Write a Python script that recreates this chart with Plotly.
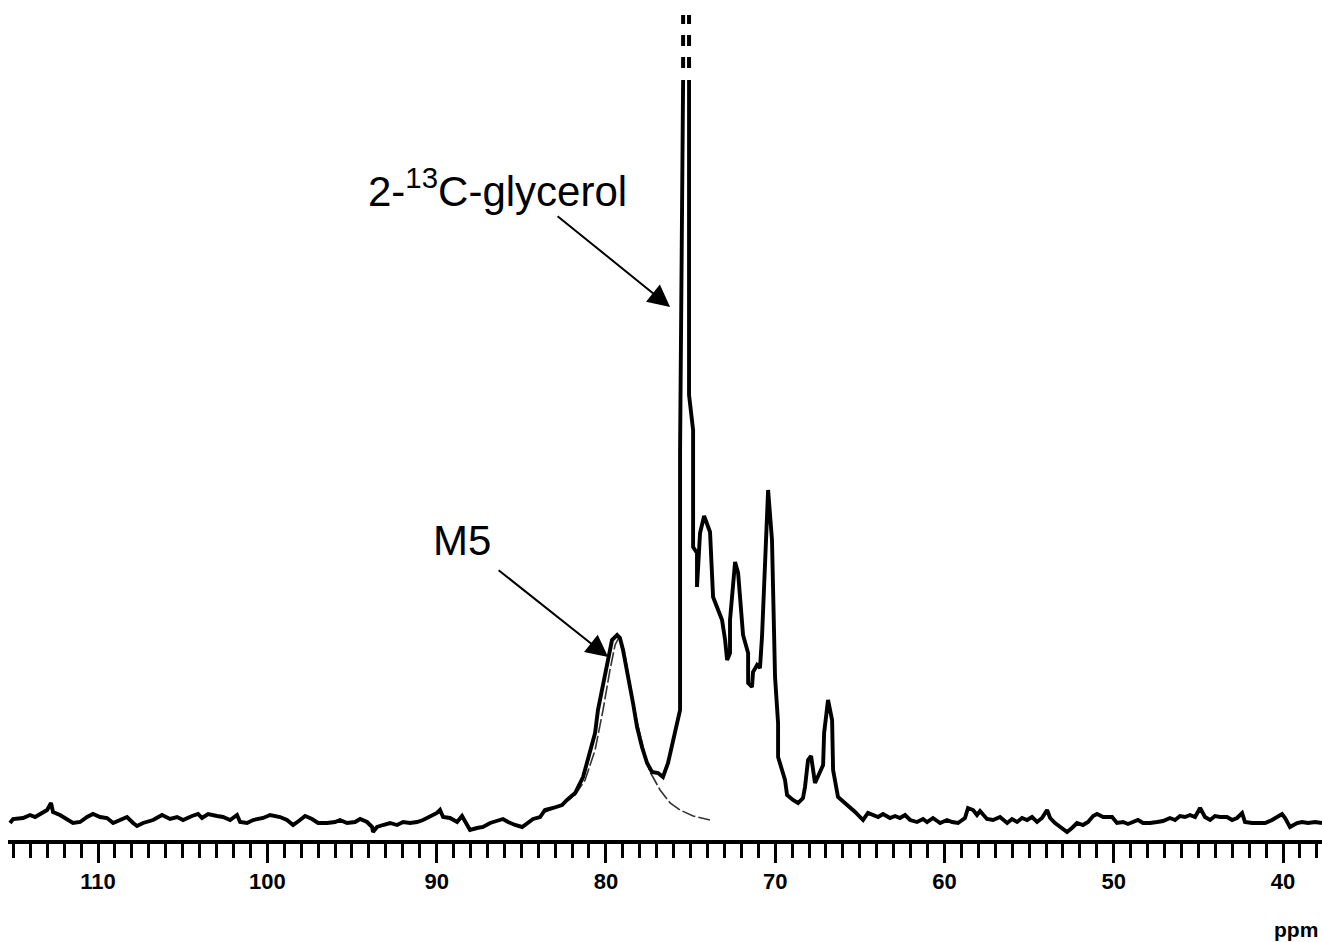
import plotly.graph_objects as go

# ---- data (ppm, intensity in arbitrary units) ----
ppm = [115.20, 115.02, 114.43, 114.02, 113.72, 113.31, 113.01, 112.78, 112.66, 112.25,
       111.83, 111.48, 111.06, 110.65, 110.30, 109.88, 109.47, 109.11, 108.70, 108.29,
       107.93, 107.70, 107.34, 106.75, 106.22, 105.75, 105.33, 104.98, 104.45, 104.09,
       103.86, 103.50, 102.97, 102.62, 102.20, 101.79, 101.61, 101.20, 100.84, 100.25,
       99.84, 99.25, 98.84, 98.48, 98.07, 97.77, 97.36, 97.00, 96.47, 96.00,
       95.71, 95.29, 94.82, 94.52, 94.11, 93.81, 93.76, 93.52, 93.17, 92.75,
       92.34, 91.98, 91.57, 91.16, 90.80, 90.39, 89.98, 89.80, 89.62, 89.21,
       88.79, 88.50, 88.32, 88.03, 87.61, 87.26, 86.84, 86.43, 86.08, 85.78,
       85.37, 84.95, 84.60, 84.30, 83.89, 83.60, 83.12, 82.89, 82.59, 82.30,
       82.12, 81.82, 81.35, 81.11, 80.94, 80.64, 80.47, 80.23, 80.05, 79.87,
       79.64, 79.34, 79.17, 78.99, 78.75, 78.57, 78.40, 78.16, 77.87, 77.57,
       77.28, 76.92, 76.63, 76.33, 76.03, 75.62, 75.62, 75.56, 75.44, None,
       75.09, 75.09, 74.85, 74.85, 74.62, 74.62, 74.44, 74.20, 73.85, 73.67,
       73.14, 72.96, 72.84, 72.67, 72.67, 72.37, 72.19, 72.08, 71.90, 71.60,
       71.60, 71.37, 71.31, 71.07, 70.90, 70.78, 70.42, 70.19, 70.13, 70.01,
       69.83, 69.83, 69.42, 69.30, 68.95, 68.65, 68.36, 68.24, 68.06, 67.88,
       67.65, 67.17, 67.11, 66.88, 66.64, 66.58, 66.29, 65.87, 65.58, 65.28,
       64.99, 64.81, 64.52, 64.22, 63.92, 63.63, 63.22, 62.92, 62.63, 62.33,
       62.03, 61.62, 61.27, 61.03, 60.68, 60.26, 59.85, 59.55, 59.20, 58.79,
       58.61, 58.31, 58.08, 57.90, 57.49, 57.13, 56.72, 56.30, 56.01, 55.71,
       55.42, 55.12, 54.83, 54.53, 54.24, 53.94, 53.76, 53.47, 53.17, 52.76,
       52.47, 52.17, 51.82, 51.52, 51.22, 50.99, 50.63, 50.10, 49.81, 49.45,
       49.16, 48.86, 48.57, 48.27, 47.86, 47.44, 47.09, 46.68, 46.38, 46.09,
       45.79, 45.50, 45.20, 44.90, 44.61, 44.31, 44.02, 43.72, 43.31, 43.01,
       42.72, 42.42, 42.25, 41.83, 41.48, 41.06, 40.65, 40.30, 40.06, 39.88,
       39.59, 39.17, 38.88, 38.52, 38.11, 37.70]

intensity = [15, 19, 20, 23, 21, 25, 28, 35, 26, 23,
             18, 15, 16, 21, 24, 21, 20, 15, 18, 21,
             15, 12, 15, 18, 23, 19, 21, 18, 22, 24,
             20, 24, 22, 21, 18, 23, 16, 15, 18, 20,
             23, 21, 18, 13, 18, 22, 19, 15, 15, 16,
             18, 15, 16, 19, 16, 11, 6, 11, 13, 15,
             13, 16, 15, 16, 18, 22, 25, 28, 21, 20,
             16, 22, 16, 8, 10, 11, 15, 17, 19, 16,
             13, 11, 15, 19, 21, 28, 30, 31, 33, 38,
             41, 45, 61, 75, 88, 105, 128, 148, 161, 178,
             198, 203, 200, 188, 168, 151, 135, 111, 91, 75,
             66, 65, 61, 75, 98, 128, 388, 538, 758, None,
             758, 443, 408, 291, 285, 251, 305, 322, 306, 241,
             218, 198, 178, 185, 218, 276, 265, 241, 203, 185,
             155, 151, 166, 173, 170, 201, 348, 298, 241, 161,
             115, 81, 58, 43, 38, 35, 40, 51, 78, 82,
             55, 73, 105, 138, 118, 68, 41, 35, 30, 26,
             21, 18, 25, 23, 21, 24, 20, 22, 20, 23,
             18, 16, 19, 16, 20, 15, 18, 16, 15, 20,
             30, 28, 23, 27, 19, 18, 21, 15, 19, 16,
             20, 18, 21, 16, 20, 28, 20, 15, 11, 6,
             10, 15, 13, 16, 22, 24, 21, 21, 15, 16,
             14, 16, 18, 15, 15, 16, 17, 20, 18, 22,
             21, 23, 21, 30, 21, 18, 22, 21, 21, 18,
             20, 25, 16, 15, 15, 15, 18, 22, 24, 20,
             11, 15, 16, 15, 16, 15]

# Lorentzian fit of the M5 peak
fit_ppm = [83.60, 82.71, 81.82, 81.23, 80.64, 80.17, 79.76, 79.46, 79.22, 78.93,
           78.57, 78.16, 77.69, 77.39, 76.80, 76.21, 75.62, 74.85, 73.85]
fit_int = [26, 32, 43, 58, 88, 128, 168, 193, 201, 188,
           153, 116, 83, 66, 48, 35, 28, 22, 18]

# truncated glycerol peak continuation (broken lines)
trunc_ppm = [75.44, 75.09]
trunc_low, trunc_high = 770, 823

tick_vals = [110, 100, 90, 80, 70, 60, 50, 40]
tick_text = ["110", "100", "90", "80", "70", "60", "50", "40"]

x_range = [115.32, 37.70]
y_range = [-2, 838]

fig = go.Figure()

fig.add_trace(go.Scatter(x=fit_ppm, y=fit_int, mode="lines",
                         line=dict(color="#333333", width=1.6, dash="14px,3px"),
                         hoverinfo="skip", showlegend=False))

fig.add_trace(go.Scatter(x=ppm, y=intensity, mode="lines", connectgaps=False,
                         line=dict(color="black", width=3.9),
                         showlegend=False))

for xp in trunc_ppm:
    fig.add_trace(go.Scatter(x=[xp, xp], y=[trunc_low, trunc_high], mode="lines",
                             line=dict(color="black", width=4, dash="11px,11px"),
                             showlegend=False, hoverinfo="skip"))

font_family = "Liberation Sans, Arial, sans-serif"

fig.update_layout(
    width=1322, height=942,
    margin=dict(l=8, r=0, t=0, b=102),
    paper_bgcolor="white", plot_bgcolor="white",
    xaxis=dict(range=x_range, showgrid=False, zeroline=False,
               showline=True, linecolor="black", linewidth=4,
               ticks="outside", ticklen=19, tickwidth=3, tickcolor="black",
               tickvals=tick_vals, ticktext=tick_text,
               tickfont=dict(family=font_family, size=22, color="black", weight="bold"),
               minor=dict(dtick=1, tick0=0, ticks="outside", ticklen=14,
                          tickwidth=3, tickcolor="black"),
               fixedrange=True),
    yaxis=dict(range=y_range, visible=False, fixedrange=True),
    annotations=[
        dict(x=86.43, y=650, xref="x", yref="y", text="2-<sup>13</sup>C-glycerol",
             showarrow=False, font=dict(family=font_family, size=42, color="black"),
             xanchor="center", yanchor="middle"),
        dict(x=76.21, y=531, xref="x", yref="y", text="", showarrow=True,
             ax=-114, ay=-92, arrowhead=2, arrowsize=2.2, arrowwidth=2,
             arrowcolor="black", standoff=0),
        dict(x=88.50, y=298, xref="x", yref="y", text="M5",
             showarrow=False, font=dict(family=font_family, size=42, color="black"),
             xanchor="center", yanchor="middle"),
        dict(x=79.87, y=181, xref="x", yref="y", text="", showarrow=True,
             ax=-111, ay=-88, arrowhead=2, arrowsize=2.2, arrowwidth=2,
             arrowcolor="black", standoff=0),
        dict(x=0.98, y=-0.107, xref="paper", yref="paper", text="ppm",
             showarrow=False, font=dict(family=font_family, size=21, color="black", weight="bold"),
             xanchor="center", yanchor="middle"),
    ],
)

fig.write_html("out.html")
